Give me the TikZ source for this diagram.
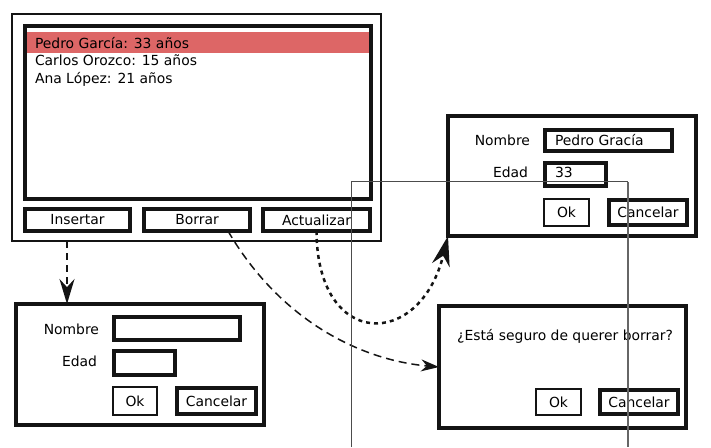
\documentclass[tikz,border=0pt]{standalone}
\usepackage{fontspec}
\setmainfont{DejaVu Sans}
\usetikzlibrary{arrows.meta}
\definecolor{sel}{RGB}{221,102,102}
\definecolor{ink}{RGB}{20,20,20}
\begin{document}
\begin{tikzpicture}[x=1pt,y=-1pt,
  every node/.style={font=\fontsize{13.9}{16.7}\selectfont, inner sep=0pt, outer sep=0pt},
  thick box/.style={draw=ink, line width=4pt},
  thin box/.style={draw=ink, line width=2.5pt},
  lbl/.style={anchor=base east},
  arrIns/.style={draw=ink, line width=2pt, dash pattern=on 7pt off 5pt, -{Stealth[length=25pt,width=15pt]}},
  arrBor/.style={draw=ink, line width=1.5pt, dash pattern=on 8pt off 5pt, -{Stealth[length=18pt,width=12pt]}},
  arrAct/.style={draw=ink, line width=2.5pt, dash pattern=on 4pt off 4pt, -{Stealth[length=30pt,width=18pt]}},
  guide/.style={draw=black!70, line width=1pt},
  guideb/.style={draw=black!60, line width=2pt}
]
\useasboundingbox (0,0) rectangle (711,447);

% main window
\node[thin box, minimum width=369pt, minimum height=227pt] (main) at (196.5,127.5) {};
\fill[sel] (27,32) rectangle (369,53);
\node[thick box, minimum width=346pt, minimum height=173pt] (list) at (198,112.5) {};
\node[anchor=base west] (r1) at (35,48) {Pedro García: 33 años};
\node[anchor=base west] (r2) at (35,65.5) {Carlos Orozco: 15 años};
\node[anchor=base west] (r3) at (35,83) {Ana López: 21 años};
\node[thick box, minimum width=105pt, minimum height=22pt] (ins) at (77.5,220) {Insertar};
\node[thick box, minimum width=106pt, minimum height=22pt] (bor) at (197,220) {Borrar};
\node[thick box, minimum width=107pt, minimum height=22pt] (act) at (316.5,220) {Actualizar};

% insert dialog
\node[thick box, minimum width=248pt, minimum height=121pt] (insdlg) at (140,364.5) {};
\node[lbl] (insN) at (99,334) {Nombre};
\node[thick box, minimum width=126pt, minimum height=23pt] (insNf) at (177,328.5) {};
\node[lbl] (insE) at (97,366.7) {Edad};
\node[thick box, minimum width=61pt, minimum height=24pt] (insEf) at (144.5,363) {};
\node[thin box, minimum width=44pt, minimum height=28pt] (insOk) at (135,401) {Ok};
\node[thick box, minimum width=79pt, minimum height=26pt] (insCa) at (216.5,401) {Cancelar};

% update dialog
\node[thick box, minimum width=248pt, minimum height=120pt] (upd) at (572,176) {};
\node[lbl] (updN) at (530,145.7) {Nombre};
\node[thick box, minimum width=127pt, minimum height=21pt] (updNf) at (608.5,140.5) {};
\node[anchor=base west] (updNv) at (555,145.7) {Pedro Gracía};
\node[lbl] (updE) at (528,177.7) {Edad};
\node[thick box, minimum width=61pt, minimum height=23pt] (updEf) at (575.5,174.5) {};
\node[anchor=base west] (updEv) at (555,177.7) {33};
\node[thin box, minimum width=45pt, minimum height=27pt] (updOk) at (566.5,212.5) {Ok};
\node[thick box, minimum width=78pt, minimum height=25pt] (updCa) at (648,212.5) {Cancelar};

% confirm dialog
\node[thick box, minimum width=247pt, minimum height=122pt] (conf) at (562.5,367) {};
\node[anchor=base] (confT) at (565,340.5) {¿Está seguro de querer borrar?};
\node[thin box, minimum width=45pt, minimum height=26pt] (confOk) at (558.5,402) {Ok};
\node[thick box, minimum width=78pt, minimum height=24pt] (confCa) at (639,402) {Cancelar};

% connectors
\coordinate (insStart) at (67,241);
\draw[arrIns] (insStart) -- (insStart |- insdlg.north);
\draw[arrBor] ([xshift=31pt]bor.south) .. controls (280,320) and (360,360) .. (conf.west);
\draw[arrAct] (act.south) .. controls (317,350) and (420,350) .. (upd.south west);

% guide lines
\draw[guide] (351,447) -- (351,181) -- (628,181);
\draw[guideb] (628,182) -- (628,447);
\end{tikzpicture}
\end{document}
